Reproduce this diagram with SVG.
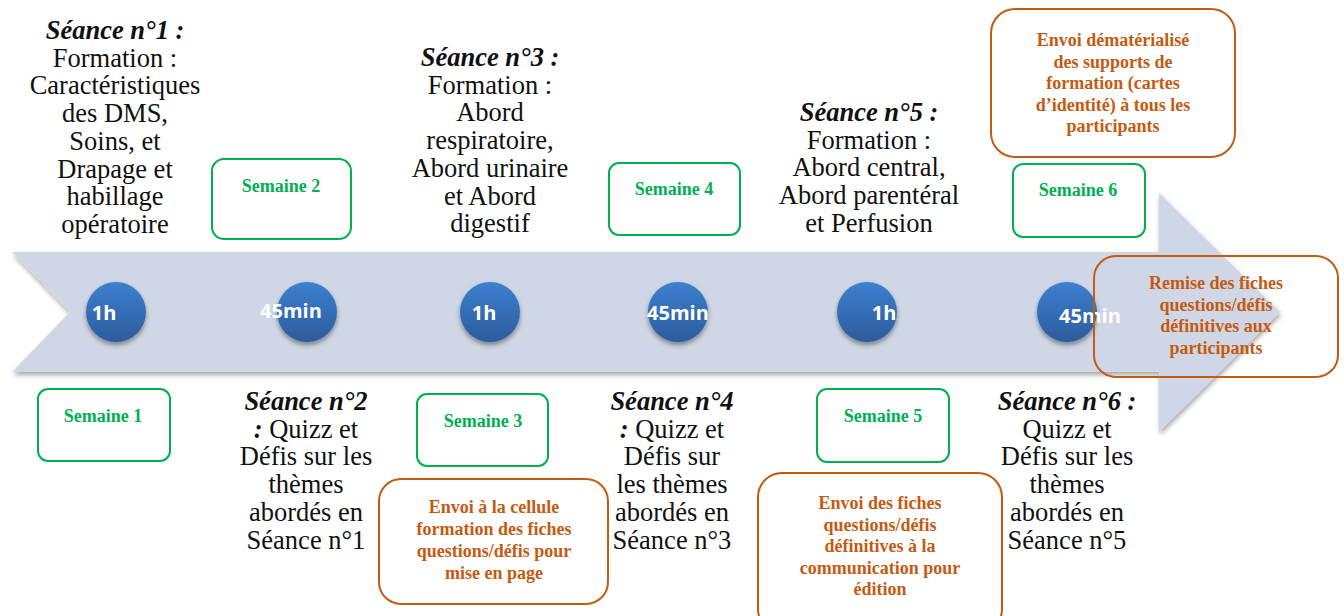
<svg xmlns="http://www.w3.org/2000/svg" width="1344" height="616" viewBox="0 0 1344 616">
<defs>
<linearGradient id="cg" x1="0" y1="0" x2="0" y2="1">
<stop offset="0" stop-color="#3d7fcf"/>
<stop offset="1" stop-color="#2c5c9c"/>
</linearGradient>
<filter id="sh" x="-10%" y="-10%" width="120%" height="130%">
<feDropShadow dx="1" dy="3" stdDeviation="2.5" flood-color="#000" flood-opacity="0.35"/>
</filter>
<filter id="csh" x="-30%" y="-30%" width="160%" height="170%">
<feDropShadow dx="0" dy="3" stdDeviation="2.5" flood-color="#000" flood-opacity="0.4"/>
</filter>
</defs>
<style>
.t{font-family:'Liberation Serif','Times New Roman',serif;font-size:26.5px;fill:#111;text-anchor:middle}
.b{font-weight:bold;font-style:italic}
.g{fill:none;stroke:#00b050;stroke-width:2}
.gt{font-family:'Liberation Serif','Times New Roman',serif;font-size:18px;font-weight:bold;fill:#00b050;text-anchor:middle}
.o{fill:none;stroke:#c55a11;stroke-width:2}
.ot{font-family:'Liberation Serif','Times New Roman',serif;font-size:18px;font-weight:bold;fill:#c55a11;text-anchor:middle}
.c{fill:url(#cg);filter:url(#csh)}
.ct{font-family:'Open Sans','Liberation Sans',sans-serif;font-size:20px;font-weight:bold;fill:#fff;text-anchor:middle}
</style>
<rect width="1344" height="616" fill="#fff"/>
<g id="arrow">
<path d="M12,252 L1159,252 L1159,193 L1280,312 L1159,432 L1159,372 L12,372 L70,312 Z" fill="#cfd7e6" filter="url(#sh)"/>
</g>
<g id="s1"><text class="t" x="115" y="39"><tspan class="b">Séance n°1 :</tspan><tspan x="115" dy="27.7">Formation :</tspan><tspan x="115" dy="27.7">Caractéristiques</tspan><tspan x="115" dy="27.7">des DMS,</tspan><tspan x="115" dy="27.7">Soins, et</tspan><tspan x="115" dy="27.7">Drapage et</tspan><tspan x="115" dy="27.7">habillage</tspan><tspan x="115" dy="27.7">opératoire</tspan></text></g>
<g id="s3"><text class="t" x="490" y="66"><tspan class="b">Séance n°3 :</tspan><tspan x="490" dy="27.7">Formation :</tspan><tspan x="490" dy="27.7">Abord</tspan><tspan x="490" dy="27.7">respiratoire,</tspan><tspan x="490" dy="27.7">Abord urinaire</tspan><tspan x="490" dy="27.7">et Abord</tspan><tspan x="490" dy="27.7">digestif</tspan></text></g>
<g id="s5"><text class="t" x="869" y="121"><tspan class="b">Séance n°5 :</tspan><tspan x="869" dy="27.7">Formation :</tspan><tspan x="869" dy="27.7">Abord central,</tspan><tspan x="869" dy="27.7">Abord parentéral</tspan><tspan x="869" dy="27.7">et Perfusion</tspan></text></g>
<g id="s2"><text class="t" x="306" y="410"><tspan class="b">Séance n°2</tspan><tspan x="306" dy="27.7"><tspan class="b">:</tspan> Quizz et</tspan><tspan x="306" dy="27.7">Défis sur les</tspan><tspan x="306" dy="27.7">thèmes</tspan><tspan x="306" dy="27.7">abordés en</tspan><tspan x="306" dy="27.7">Séance n°1</tspan></text></g>
<g id="s4"><text class="t" x="672" y="410"><tspan class="b">Séance n°4</tspan><tspan x="672" dy="27.7"><tspan class="b">:</tspan> Quizz et</tspan><tspan x="672" dy="27.7">Défis sur</tspan><tspan x="672" dy="27.7">les thèmes</tspan><tspan x="672" dy="27.7">abordés en</tspan><tspan x="672" dy="27.7">Séance n°3</tspan></text></g>
<g id="s6"><text class="t" x="1067" y="410"><tspan class="b">Séance n°6 :</tspan><tspan x="1067" dy="27.7">Quizz et</tspan><tspan x="1067" dy="27.7">Défis sur les</tspan><tspan x="1067" dy="27.7">thèmes</tspan><tspan x="1067" dy="27.7">abordés en</tspan><tspan x="1067" dy="27.7">Séance n°5</tspan></text></g>
<g id="w1"><rect class="g" x="38" y="389" width="132" height="72" rx="10"/><text class="gt" x="103" y="422">Semaine 1</text></g>
<g id="w2"><rect class="g" x="212" y="159" width="139" height="80" rx="12"/><text class="gt" x="281" y="192">Semaine 2</text></g>
<g id="w3"><rect class="g" x="417" y="394" width="131" height="72" rx="10"/><text class="gt" x="483" y="427">Semaine 3</text></g>
<g id="w4"><rect class="g" x="609" y="163" width="131" height="72" rx="10"/><text class="gt" x="674" y="195">Semaine 4</text></g>
<g id="w5"><rect class="g" x="817" y="389" width="132" height="73" rx="10"/><text class="gt" x="883" y="422">Semaine 5</text></g>
<g id="w6"><rect class="g" x="1013" y="164" width="132" height="73" rx="10"/><text class="gt" x="1078" y="196">Semaine 6</text></g>
<g id="c1"><circle class="c" cx="116" cy="312" r="30"/><text class="ct" x="104" y="320">1h</text></g>
<g id="c2"><circle class="c" cx="307" cy="312" r="30"/><text class="ct" x="291" y="318">45min</text></g>
<g id="c3"><circle class="c" cx="490" cy="312" r="30"/><text class="ct" x="484" y="320">1h</text></g>
<g id="c4"><circle class="c" cx="678" cy="312" r="30"/><text class="ct" x="678" y="320">45min</text></g>
<g id="c5"><circle class="c" cx="867" cy="312" r="30"/><text class="ct" x="884" y="320">1h</text></g>
<g id="c6"><circle class="c" cx="1067" cy="312" r="30"/><text class="ct" x="1090" y="323">45min</text></g>
<g id="o1"><rect class="o" x="991" y="9" width="244" height="148" rx="24"/><text class="ot" x="1113" y="46"><tspan>Envoi dématérialisé</tspan><tspan x="1113" dy="21.5">des supports de</tspan><tspan x="1113" dy="21.5">formation (cartes</tspan><tspan x="1113" dy="21.5">d’identité) à tous les</tspan><tspan x="1113" dy="21.5">participants</tspan></text></g>
<g id="o2"><rect class="o" x="1094" y="256" width="244" height="121" rx="22"/><text class="ot" x="1216" y="289"><tspan>Remise des fiches</tspan><tspan x="1216" dy="21.5">questions/défis</tspan><tspan x="1216" dy="21.5">définitives aux</tspan><tspan x="1216" dy="21.5">participants</tspan></text></g>
<g id="o3"><rect class="o" x="379" y="479" width="229" height="125" rx="22"/><text class="ot" x="494" y="513"><tspan>Envoi à la cellule</tspan><tspan x="494" dy="22">formation des fiches</tspan><tspan x="494" dy="22">questions/défis pour</tspan><tspan x="494" dy="22">mise en page</tspan></text></g>
<g id="o4"><rect class="o" x="758" y="473" width="244" height="160" rx="24"/><text class="ot" x="880" y="509"><tspan>Envoi des fiches</tspan><tspan x="880" dy="21.5">questions/défis</tspan><tspan x="880" dy="21.5">définitives à la</tspan><tspan x="880" dy="21.5">communication pour</tspan><tspan x="880" dy="21.5">édition</tspan></text></g>
<g id="connectors"></g>
</svg>
